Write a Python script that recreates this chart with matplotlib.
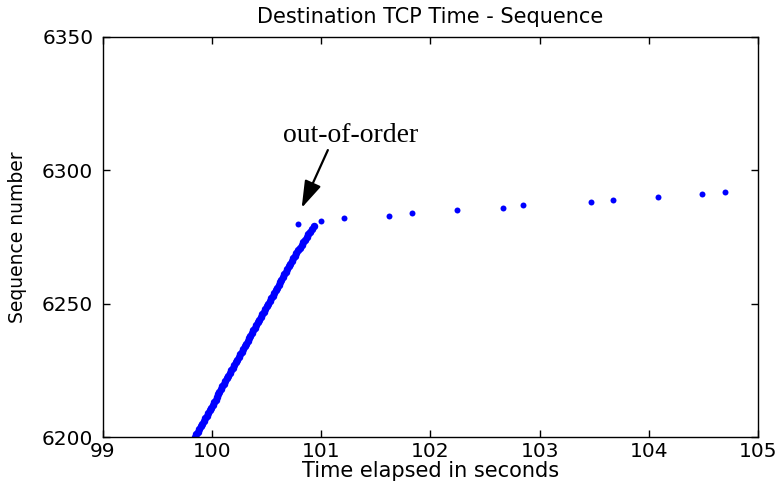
import numpy as np
import matplotlib
matplotlib.use("Agg")
import matplotlib.pyplot as plt

plt.rcParams['font.family'] = ['DejaVu Sans']

# in-order segments arriving back to back (seq 6200..6279)
burst_seq = list(range(6200, 6280))
burst_time = [
    99.840, 99.853, 99.867, 99.881, 99.894, 99.909, 99.922, 99.936, 99.950, 99.963,
    99.977, 99.990, 100.004, 100.019, 100.032, 100.046, 100.058, 100.066, 100.080, 100.094,
    100.108, 100.121, 100.135, 100.149, 100.163, 100.176, 100.190, 100.204, 100.218, 100.231,
    100.245, 100.259, 100.272, 100.286, 100.300, 100.314, 100.327, 100.341, 100.349, 100.362,
    100.376, 100.390, 100.404, 100.418, 100.431, 100.445, 100.459, 100.472, 100.486, 100.500,
    100.514, 100.527, 100.541, 100.555, 100.568, 100.582, 100.596, 100.610, 100.618, 100.632,
    100.646, 100.660, 100.673, 100.687, 100.701, 100.715, 100.728, 100.742, 100.756, 100.770,
    100.790, 100.805, 100.820, 100.835, 100.850, 100.866, 100.882, 100.898, 100.915, 100.935,
]

# the out-of-order segment and the sparse tail
ooo_time = [100.79]
ooo_seq = [6280]
tail_time = [101.00, 101.21, 101.62, 101.83, 102.24, 102.66, 102.85,
             103.47, 103.67, 104.08, 104.49, 104.70]
tail_seq = [6281, 6282, 6283, 6284, 6285, 6286, 6287,
            6288, 6289, 6290, 6291, 6292]

xticks = [99, 100, 101, 102, 103, 104, 105]
yticks = [6200, 6250, 6300, 6350]

fig = plt.figure(figsize=(7.79, 4.83), dpi=100)
ax = fig.add_axes([0.1322, 0.0952, 0.8408, 0.8282])

ax.plot(burst_time, burst_seq, 'o', color='#0000ff', ms=5.4, mec='none')
ax.plot(ooo_time + tail_time, ooo_seq + tail_seq, 'o', color='#0000ff', ms=4.3, mec='none')

ax.set_xlim(99, 105)
ax.set_ylim(6200, 6350)
ax.set_xticks(xticks)
ax.set_yticks(yticks)
ax.tick_params(direction='in', length=5, width=1, top=True, right=True,
               labelsize=14.5, colors='black')
ax.tick_params(axis='x', pad=3.5)
ax.tick_params(axis='y', pad=7)
for s in ax.spines.values():
    s.set_linewidth(1)

ax.set_title('Destination TCP Time - Sequence', fontsize=15, pad=10)
ax.set_xlabel('Time elapsed in seconds', fontsize=15, labelpad=0)
ax.set_ylabel('Sequence number', fontsize=13.5, labelpad=11)

# label and arrow pointing at the out-of-order segment
ax.text(101.27, 6310.6, 'out-of-order', ha='center', va='baseline', fontsize=20,
        family=['Liberation Serif', 'DejaVu Serif'])
ax.annotate('', xy=(100.82, 6285.9), xytext=(101.06, 6307.6),
            arrowprops=dict(arrowstyle='-|>,head_length=0.75,head_width=0.24',
                            color='black', lw=1.6, mutation_scale=22,
                            shrinkA=0, shrinkB=0))

fig.savefig('out.png', dpi=100)
